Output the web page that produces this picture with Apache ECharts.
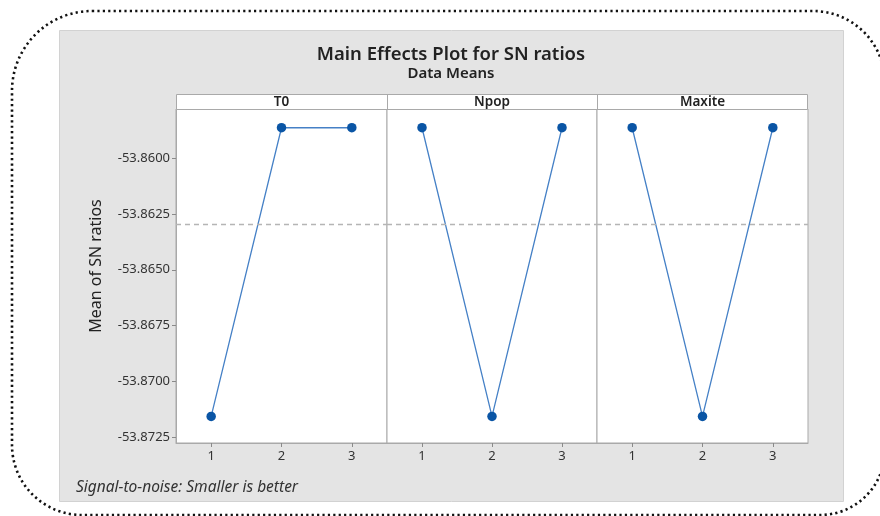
<!DOCTYPE html>
<html>
<head>
<meta charset="utf-8">
<script src="https://cdn.jsdelivr.net/npm/echarts@6/dist/echarts.min.js"></script>
<style>
  html, body { margin: 0; padding: 0; background: #ffffff; }
  #chart { width: 880px; height: 516px; }
</style>
</head>
<body>
<div id="chart"></div>
<script>
// Factor panels and their level means (signal-to-noise ratios)
const factors = ['T0', 'Npop', 'Maxite'];
const levels = ['1', '2', '3'];
const t0Means = [-53.87158, -53.85863, -53.85863];
const npopMeans = [-53.85863, -53.87158, -53.85863];
const maxiteMeans = [-53.85863, -53.87158, -53.85863];
const yTicks = [-53.8725, -53.8700, -53.8675, -53.8650, -53.8625, -53.8600];

const seriesMeans = [t0Means, npopMeans, maxiteMeans];

// Grand mean drawn as the dashed reference line
const allValues = [].concat(t0Means, npopMeans, maxiteMeans);
const grandMean = allValues.reduce((a, b) => a + b, 0) / allValues.length;

const FONT = "'Noto Sans', 'Open Sans', sans-serif";
const Y_MIN = -53.87277;
const Y_MAX = -53.85779;

// Panel geometry (pixels)
const panels = [
  { left: 176, width: 211 },
  { left: 387, width: 210 },
  { left: 597, width: 211 }
];
const PLOT_TOP = 109;
const PLOT_BOTTOM = 443;
const HEADER_TOP = 94;

const chart = echarts.init(document.getElementById('chart'), null, { renderer: 'canvas' });

const grids = panels.map(p => ({
  left: p.left, width: p.width, top: PLOT_TOP, height: PLOT_BOTTOM - PLOT_TOP,
  show: true, backgroundColor: '#ffffff', borderColor: '#a9a9a9', borderWidth: 1
}));

const xAxes = panels.map((p, i) => ({
  type: 'category', gridIndex: i, data: levels, boundaryGap: true,
  axisLine: { show: true, lineStyle: { color: '#a9a9a9', width: 1 } },
  axisTick: { show: true, alignWithLabel: true, length: 4, lineStyle: { color: '#8a8a8a' } },
  axisLabel: { color: '#333', fontSize: 13, fontFamily: FONT, margin: 7 },
  splitLine: { show: false }
}));

const yAxes = panels.map((p, i) => ({
  type: 'value', gridIndex: i, min: Y_MIN, max: Y_MAX, scale: true,
  show: i === 0,
  axisLine: { show: i === 0, lineStyle: { color: '#a9a9a9' } },
  axisTick: { show: i === 0, length: 4, customValues: yTicks, lineStyle: { color: '#8a8a8a' } },
  axisLabel: {
    show: i === 0, customValues: yTicks, color: '#333', fontSize: 13, fontFamily: FONT, margin: 6,
    formatter: v => v.toFixed(4)
  },
  splitLine: { show: false }
}));

const series = seriesMeans.map((vals, i) => ({
  type: 'line', xAxisIndex: i, yAxisIndex: i, data: vals,
  symbol: 'circle', symbolSize: 9.5,
  lineStyle: { color: '#4580c6', width: 1.3 },
  itemStyle: { color: '#0a55a5' },
  animation: false,
  markLine: {
    silent: true, symbol: 'none', animation: false, precision: 6,
    label: { show: false },
    lineStyle: { color: '#b5b5b5', type: [5, 4], width: 1.3 },
    data: [{ yAxis: grandMean }]
  }
}));

const graphics = [
  // dotted rounded frame
  { type: 'rect', z: -10, shape: { x: 12, y: 11, width: 873, height: 504, r: [80, 72, 65, 70] },
    style: { fill: 'none', stroke: '#111', lineWidth: 2.6, lineDash: [2.2, 3.2] } },
  // gray chart background
  { type: 'rect', z: -10, shape: { x: 59.5, y: 30.5, width: 784, height: 471 },
    style: { fill: '#e4e4e4', stroke: '#d2d2d2', lineWidth: 1 } },
  // panel header strip
  { type: 'rect', z: 1, shape: { x: 176.5, y: HEADER_TOP + 0.5, width: 631, height: PLOT_TOP - HEADER_TOP },
    style: { fill: '#ffffff', stroke: '#a9a9a9', lineWidth: 1 } },
  { type: 'text', z: 2, style: { text: 'Main Effects Plot for SN ratios', x: 451, y: 55, align: 'center', verticalAlign: 'middle',
    font: `600 18.5px ${FONT}`, fill: '#222' } },
  { type: 'text', z: 2, style: { text: 'Data Means', x: 451, y: 74, align: 'center', verticalAlign: 'middle',
    font: `600 15px ${FONT}`, fill: '#222' } },
  { type: 'text', z: 2, rotation: Math.PI / 2, x: 96, y: 266,
    style: { text: 'Mean of SN ratios', x: 0, y: 0, align: 'center', verticalAlign: 'middle',
      font: `16px ${FONT}`, fill: '#222' } },
  { type: 'text', z: 2, style: { text: 'Signal-to-noise: Smaller is better', x: 76, y: 488, align: 'left', verticalAlign: 'middle',
    font: `italic 15.5px ${FONT}`, fill: '#333' } }
];

panels.forEach((p, i) => {
  graphics.push({ type: 'text', z: 3, style: { text: factors[i], x: p.left + p.width / 2, y: 102, align: 'center', verticalAlign: 'middle',
    font: `600 13.5px ${FONT}`, fill: '#222' } });
  if (i > 0) {
    graphics.push({ type: 'line', z: 3, shape: { x1: p.left + 0.5, y1: HEADER_TOP, x2: p.left + 0.5, y2: PLOT_TOP },
      style: { stroke: '#a9a9a9', lineWidth: 1 } });
  }
});

chart.setOption({
  backgroundColor: '#ffffff',
  animation: false,
  grid: grids,
  xAxis: xAxes,
  yAxis: yAxes,
  series: series,
  graphic: graphics
});
</script>
</body>
</html>
